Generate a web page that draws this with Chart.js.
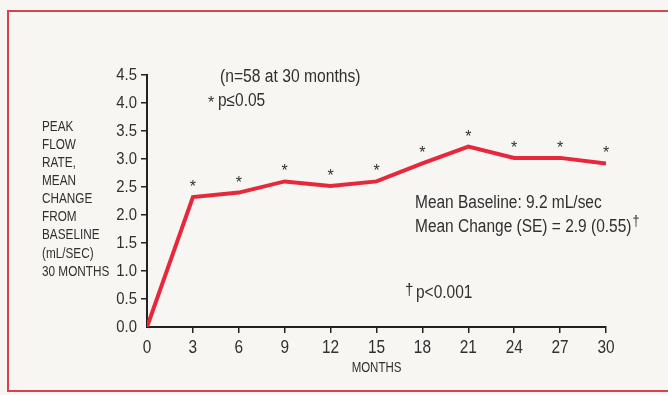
<!DOCTYPE html>
<html>
<head>
<meta charset="utf-8">
<script src="https://cdn.jsdelivr.net/npm/chart.js@4/dist/chart.umd.min.js"></script>
<style>
  html, body { margin: 0; padding: 0; background: #f7f6f3; }
  canvas { display: block; }
</style>
</head>
<body>
<canvas id="flowChart" width="668" height="395"></canvas>
<script>
// Peak flow rate, mean change from baseline over 30 months
const months = [0, 3, 6, 9, 12, 15, 18, 21, 24, 27, 30];
const flowChange = [0, 2.32, 2.4, 2.6, 2.52, 2.6, 2.92, 3.22, 3.02, 3.02, 2.92];
const significant = [false, true, true, true, true, true, true, true, true, true, true];
const yTitleLines = ['PEAK', 'FLOW', 'RATE,', 'MEAN', 'CHANGE', 'FROM', 'BASELINE', '(mL/SEC)', '30 MONTHS'];

const FONT = '"Liberation Sans", Arial, sans-serif';
const INK = '#303030';

// condensed text: Liberation Sans squeezed horizontally
function narrowText(c, text, x, y, size, sx, align) {
    c.save();
    c.font = size + 'px ' + FONT;
    c.textAlign = align || 'left';
    c.translate(x, y);
    c.scale(sx, 1);
    c.fillText(text, 0, 0);
    const w = c.measureText(text).width * sx;
    c.restore();
    return w;
}

// background, frame, tick labels, stars and free text
const decorations = {
    id: 'decorations',
    beforeDraw(chart) {
        const c = chart.ctx;
        c.save();
        c.fillStyle = '#f7f6f3';
        c.fillRect(0, 0, chart.width, chart.height);
        c.strokeStyle = '#d9434e';
        c.lineWidth = 2;
        c.strokeRect(8, 11, chart.width + 10, 380);
        c.restore();
    },
    afterDraw(chart) {
        const c = chart.ctx;
        const xs = chart.scales.x;
        const ys = chart.scales.y;
        const pts = chart.getDatasetMeta(0).data;
        c.save();
        c.fillStyle = INK;

        // tick labels
        c.textBaseline = 'middle';
        ys.ticks.forEach(t => {
            narrowText(c, t.value.toFixed(1), ys.right - 10, ys.getPixelForValue(t.value), 16.5, 0.9, 'right');
        });
        xs.ticks.forEach(t => {
            narrowText(c, String(t.value), xs.getPixelForValue(t.value), xs.top + 21, 17.5, 0.88, 'center');
        });

        // y axis title, left aligned block
        yTitleLines.forEach((t, i) => narrowText(c, t, 42, 127 + i * 18.1, 14, 0.84, 'left'));

        // x axis title
        narrowText(c, 'MONTHS', xs.getPixelForValue(15), 368, 14, 0.82, 'center');

        // significance stars above points
        c.textBaseline = 'alphabetic';
        pts.forEach((p, i) => {
            if (significant[i]) narrowText(c, '*', p.x, p.y - 5, 16, 1, 'center');
        });

        // notes
        narrowText(c, '(n=58 at 30 months)', 220, 82, 18, 0.87, 'left');
        narrowText(c, '*', 211, 108, 16, 1, 'center');
        narrowText(c, 'p\u22640.05', 218, 106, 18, 0.86, 'left');
        narrowText(c, 'Mean Baseline: 9.2 mL/sec', 415, 208, 18, 0.86, 'left');
        const w = narrowText(c, 'Mean Change (SE) = 2.9 (0.55)', 415, 232, 18, 0.86, 'left');
        narrowText(c, '\u2020', 415 + w + 1, 226, 14, 0.9, 'left');
        narrowText(c, '\u2020', 405, 295, 17, 0.9, 'left');
        narrowText(c, 'p<0.001', 416, 298, 18, 0.86, 'left');
        c.restore();
    }
};

const tickColor = (ctx) => (ctx.tick && ctx.tick.value === 0 ? 'rgba(0,0,0,0)' : '#222');

const config = {
    type: 'line',
    data: {
        datasets: [{
            label: 'Peak flow rate change',
            data: months.map((m, i) => ({ x: m, y: flowChange[i] })),
            borderColor: '#e6283a',
            borderWidth: 4,
            pointRadius: 0,
            tension: 0,
            fill: false
        }]
    },
    options: {
        responsive: false,
        animation: false,
        layout: { padding: { top: 75, right: 62, bottom: 0, left: 0 } },
        plugins: {
            legend: { display: false },
            tooltip: { enabled: false }
        },
        scales: {
            x: {
                type: 'linear',
                min: 0,
                max: 30,
                afterBuildTicks: (scale) => { scale.ticks = months.map(v => ({ value: v })); },
                afterFit: (scale) => { scale.height = 68; },
                border: { display: true, color: '#222', width: 2 },
                grid: { drawOnChartArea: false, drawTicks: true, tickLength: 6, color: tickColor, lineWidth: 1.5 },
                ticks: { display: false }
            },
            y: {
                min: 0,
                max: 4.5,
                afterFit: (scale) => { scale.width = 147; },
                border: { display: true, color: '#222', width: 2 },
                grid: { drawOnChartArea: false, drawTicks: true, tickLength: 6, color: tickColor, lineWidth: 1.5 },
                ticks: { display: false, stepSize: 0.5 }
            }
        }
    },
    plugins: [decorations]
};

new Chart(document.getElementById('flowChart').getContext('2d'), config);
</script>
</body>
</html>
